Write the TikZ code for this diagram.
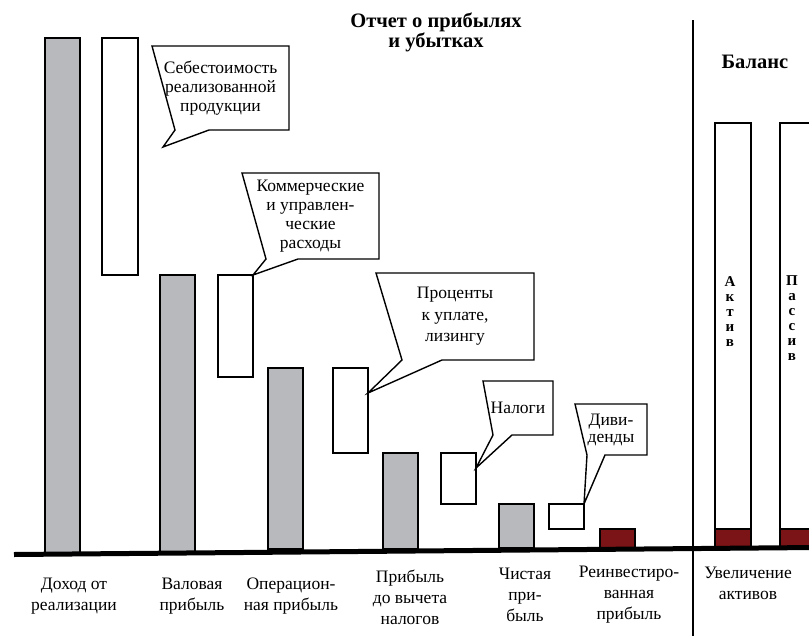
\documentclass[tikz,border=0pt]{standalone}
\usepackage{fontspec}
\setmainfont{Liberation Serif}
\usetikzlibrary{calc}
\definecolor{bargray}{RGB}{184,185,189}
\definecolor{bardark}{RGB}{122,20,22}

\begin{document}
\begin{tikzpicture}[x=1pt,y=-1pt]
      \newcommand{\callout}[4]{\draw[cline] (#1.north west) -- (#1.north east) -- (#1.south east) -- ($(#1.south west)+(#3,0)$) -- (#4) -- ($(#1.south west)+(#2,0)$) -- cycle;}
      \tikzstyle{bar}  = [draw=black, line width=1.4pt, anchor=north west, inner sep=0pt, outer sep=0pt, minimum width=35]
      \tikzstyle{gbar} = [bar, fill=bargray]
      \tikzstyle{wbar} = [bar, fill=white]
      \tikzstyle{rbar} = [bar, fill=bardark]
      \tikzstyle{cbox} = [inner sep=0pt, outer sep=0pt, align=center, font=\fontsize{17.5}{19}\selectfont]
      \tikzstyle{cline} = [draw=black, line width=1.4pt, line join=miter]
      \tikzstyle{axlabel} = [align=center, font=\fontsize{17.5}{21}\selectfont]
      \tikzstyle{heading} = [align=center, font=\fontsize{20.5}{20}\selectfont\bfseries]
      \tikzstyle{vword} = [align=center, inner sep=0pt, font=\fontsize{15}{15}\selectfont\bfseries]

      \clip (0,0) rectangle (809,635);

      % income statement
      \node[gbar, minimum height=515] (g1) at (45,38) {};
      \node[wbar, minimum width=36, minimum height=237] (w1) at (102,38) {};
      \node[gbar, minimum height=278] (g2) at (160,275) {};
      \node[wbar, minimum height=102] (w2) at (218,275) {};
      \node[gbar, minimum height=181] (g3) at (268,368) {};
      \node[wbar, minimum height=85] (w3) at (333,368) {};
      \node[gbar, minimum height=96] (g4) at (383,453) {};
      \node[wbar, minimum height=51] (w4) at (441,453) {};
      \node[gbar, minimum height=44] (g5) at (499,504) {};
      \node[wbar, minimum height=25] (w5) at (549,504) {};
      \node[rbar, minimum height=19] (r1) at (600,529) {};

      % balance
      \node[wbar, minimum width=36, minimum height=424] (aktiv) at (715,123) {};
      \node[wbar, minimum width=36, minimum height=424] (passiv) at (780,123) {};
      \node[rbar, minimum width=36, minimum height=18] (r2) at (715,529) {};
      \node[rbar, minimum width=36, minimum height=18] (r3) at (780,529) {};
      \node[vword] (akt) at (730,311.5) {А\\к\\т\\и\\в};
      \node[vword] (pas) at (792,318.5) {П\\а\\с\\с\\и\\в};

      \coordinate (base1) at (14,554.5);
      \coordinate (base2) at (815,547.5);
      \draw[line width=5pt] (base1) -- (base2);
      \coordinate (div1) at (693,20);
      \coordinate (div2) at (693,640);
      \draw[line width=1.2pt] (div1) -- (div2);

      % callouts
      \node[cbox, minimum width=137, minimum height=84] (c1) at (220.5,88) {Себестоимость\\реализованной\\продукции};
      \node[cbox, minimum width=137, minimum height=86] (c2) at (310.5,216) {Коммерческие\\и управлен-\\ческие\\расходы};
      \node[cbox, minimum width=158, minimum height=87, font=\fontsize{17.5}{21.5}\selectfont] (c3) at (455,316.5) {Проценты\\к уплате,\\лизингу};
      \node[cbox, minimum width=70, minimum height=54] (c4) at (518,408) {Налоги};
      \node[cbox, minimum width=72, minimum height=51, font=\fontsize{17.5}{17}\selectfont] (c5) at (611,429.5) {Диви-\\денды};
      \coordinate (t1) at (163,147);
      \coordinate (t3) at ($(w3.north east)+(0,25)$);
      \coordinate (t4) at ($(w4.north east)+(0,15)$);
      \callout{c1}{23}{57}{t1}
      \callout{c2}{24}{56}{w2.north east}
      \callout{c3}{26}{66}{t3}
      \callout{c4}{10}{29}{t4}
      \callout{c5}{12}{30}{w5.north east}

      % headings and labels
      \node[heading] (h1) at (436,32.5) {Отчет о прибылях\\и убытках};
      \node[heading] (h2) at (755,62) {Баланс};
      \node[axlabel] (l1) at (74,596) {Доход от\\реализации};
      \node[axlabel] (l2) at (192,596) {Валовая\\прибыль};
      \node[axlabel] (l3) at (291,596) {Операцион-\\ная прибыль};
      \node[axlabel] (l4) at (410,597) {Прибыль\\до вычета\\налогов};
      \node[axlabel] (l5) at (525,595) {Чистая\\при-\\быль};
      \node[axlabel] (l6) at (629,595) {Реинвестиро-\\ванная\\прибыль};
      \node[axlabel] (l7) at (748,583.5) {Увеличение\\активов};
    \end{tikzpicture}
\end{document}
